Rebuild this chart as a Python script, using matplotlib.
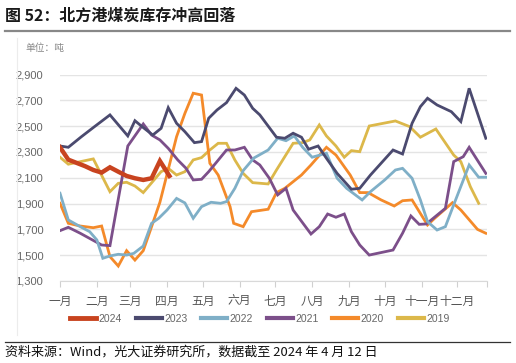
import matplotlib
matplotlib.use("Agg")
import matplotlib.pyplot as plt
from matplotlib.lines import Line2D

plt.rcParams['font.family'] = ['Liberation Sans', 'Noto Sans CJK SC', 'DejaVu Sans']

# x values are day of year (0 = 1 Jan), y values in 10k tonnes
d2024 = [0, 7, 14, 21, 28, 35, 42, 49, 56, 63, 70, 77, 84, 92]
v2024 = [2336, 2240, 2215, 2190, 2160, 2140, 2181, 2147, 2114, 2096, 2083, 2096, 2230, 2114]

d2023 = [0, 7, 18, 29, 42, 57, 63, 69, 78, 85, 91, 98, 105, 113, 119, 125, 132, 140, 148, 155,
         162, 168, 182, 189, 196, 203, 209, 217, 224, 233, 245, 252, 261, 280, 288, 296, 303,
         309, 317, 329, 337, 344, 358]
v2023 = [2346, 2336, 2418, 2496, 2587, 2424, 2542, 2496, 2431, 2483, 2643, 2522, 2457, 2372, 2380,
         2561, 2625, 2682, 2793, 2741, 2638, 2587, 2414, 2406, 2445, 2414, 2321, 2346, 2251, 2134,
         2011, 2018, 2121, 2315, 2284, 2522, 2651, 2716, 2664, 2612, 2535, 2793, 2406]

d2022 = [0, 7, 17, 25, 31, 36, 42, 49, 56, 62, 70, 77, 83, 90, 98, 105, 112, 119, 127, 135, 140,
         147, 154, 163, 175, 183, 190, 197, 204, 212, 224, 233, 241, 254, 261, 273, 282, 288, 296,
         303, 309, 317, 324, 331, 344, 352, 358]
v2022 = [1980, 1773, 1721, 1682, 1618, 1476, 1494, 1507, 1501, 1514, 1571, 1747, 1786, 1850, 1940,
         1905, 1786, 1876, 1910, 1902, 1915, 2018, 2155, 2253, 2315, 2406, 2387, 2424, 2336, 2259,
         2290, 2096, 2018, 1928, 1992, 2083, 2160, 2173, 2096, 1928, 1760, 1695, 1721, 1890, 2199,
         2104, 2104]

d2021 = [0, 7, 17, 35, 42, 57, 70, 77, 84, 91, 99, 106, 112, 119, 125, 132, 140, 147, 155, 162,
         168, 176, 183, 190, 196, 211, 218, 225, 232, 239, 245, 252, 260, 280, 288, 295, 302, 308,
         324, 331, 339, 344, 358]
v2021 = [1690, 1716, 1670, 1579, 1574, 2346, 2517, 2431, 2393, 2328, 2238, 2173, 2083, 2088, 2147,
         2225, 2315, 2315, 2336, 2238, 2199, 2096, 1967, 2018, 1850, 1664, 1721, 1819, 1794, 1819,
         1682, 1579, 1501, 1540, 1670, 1804, 1739, 1742, 1863, 2225, 2263, 2336, 2134]

d2020 = [0, 7, 17, 28, 35, 42, 49, 56, 63, 70, 77, 84, 98, 105, 112, 119, 126, 133, 143, 146, 154,
         161, 175, 182, 189, 203, 211, 224, 232, 244, 252, 259, 270, 281, 288, 296, 309, 315, 330,
         337, 351, 358]
v2020 = [1902, 1747, 1726, 1713, 1726, 1489, 1416, 1535, 1462, 1535, 1721, 1910, 2418, 2599, 2755,
         2741, 2212, 2121, 1876, 1747, 1721, 1837, 1856, 1985, 2018, 2121, 2199, 2336, 2276, 2121,
         1985, 1985, 1928, 1881, 1922, 1928, 1734, 1786, 1907, 1850, 1700, 1670]

d2019 = [0, 7, 28, 42, 49, 56, 63, 70, 85, 91, 98, 105, 112, 119, 126, 133, 140, 147, 154, 162,
         175, 182, 196, 204, 210, 218, 224, 232, 239, 245, 252, 260, 282, 294, 303, 316, 331, 337,
         345, 352]
v2019 = [2259, 2205, 2246, 1992, 2057, 2065, 2036, 1985, 2147, 2173, 2121, 2147, 2238, 2256, 2315,
         2367, 2367, 2238, 2134, 2062, 2052, 2160, 2367, 2372, 2393, 2509, 2424, 2346, 2259, 2310,
         2302, 2501, 2540, 2496, 2414, 2478, 2276, 2225, 2031, 1902]

month_days = [0, 31, 59, 90, 120, 151, 181, 212, 243, 273, 304, 334]
month_labels = ['一月', '二月', '三月', '四月', '五月', '六月', '七月', '八月', '九月', '十月', '十一月', '十二月']
y_ticks = [1300, 1500, 1700, 1900, 2100, 2300, 2500, 2700, 2900]

series = [
    ('2024', d2024, v2024, '#c8431f', 3.2),
    ('2023', d2023, v2023, '#4b4a6f', 2.0),
    ('2022', d2022, v2022, '#7fafc7', 2.0),
    ('2021', d2021, v2021, '#7c4f8a', 2.0),
    ('2020', d2020, v2020, '#f48a2a', 2.0),
    ('2019', d2019, v2019, '#dcb84a', 2.0),
]

fig = plt.figure(figsize=(5.16, 3.63), dpi=100)
ax = fig.add_axes([60 / 516, 1 - 281 / 363, 427 / 516, (281 - 74.5) / 363])

# draw older years first so 2024 sits on top
for name, d, v, c, lw in reversed(series):
    ax.plot(d, v, color=c, lw=lw, solid_joinstyle='miter', zorder=3 if name == '2024' else 2)

ax.set_xlim(0, 359)
ax.set_ylim(1300, 2900)
ax.set_yticks(y_ticks)
ax.set_yticklabels(['{:,}'.format(t) for t in y_ticks], color='#666666', fontsize=8)
ax.set_xticks(month_days + [359])
ax.set_xticklabels(month_labels + [''], color='#555555', fontsize=8.5,
                   family=['Noto Sans CJK SC', 'DejaVu Sans'])
ax.tick_params(axis='y', length=0, pad=12)
ax.tick_params(axis='x', length=4, color='#d0d0d0', pad=6)
ax.grid(axis='y', color='#e4e4e4', lw=1)
ax.set_axisbelow(True)
for s in ['top', 'right', 'left']:
    ax.spines[s].set_visible(False)
ax.spines['bottom'].set_color('#d9d9d9')

handles = [Line2D([], [], color=c, lw=3.5 if n == '2024' else 3) for n, d, v, c, lw in series]
fig.legend(handles, [s[0] for s in series], loc='center', bbox_to_anchor=(260 / 516, 1 - 319 / 363),
           ncol=6, frameon=False, handlelength=2.5, handletextpad=0.25, columnspacing=1.3,
           prop={'size': 7.5}, labelcolor='#666666')

fig.text(5 / 516, 1 - 16 / 363, '图 52：北方港煤炭库存冲高回落', fontsize=11.5, fontweight='bold',
         color='#1a1a1a', va='center', family=['Noto Sans CJK SC'])
fig.add_artist(Line2D([5 / 516, 510 / 516], [1 - 31 / 363, 1 - 31 / 363], color='#888888', lw=1.6))
fig.add_artist(Line2D([17 / 516, 17 / 516], [1 - 38 / 363, 1 - 335 / 363], color='#ececec', lw=0.8))
fig.text(25 / 516, 1 - 47.5 / 363, '单位：吨', fontsize=7, color='#888888', va='center',
         family=['Noto Sans CJK SC'])
fig.add_artist(Line2D([5 / 516, 510 / 516], [1 - 342 / 363, 1 - 342 / 363], color='#333333', lw=0.9))
fig.text(5 / 516, 1 - 352.5 / 363, '资料来源：Wind，光大证券研究所，数据截至 2024 年 4 月 12 日', fontsize=9.4,
         color='#111111', va='center', family=['Noto Sans CJK SC', 'DejaVu Sans'])

fig.savefig('out.png', dpi=100)
